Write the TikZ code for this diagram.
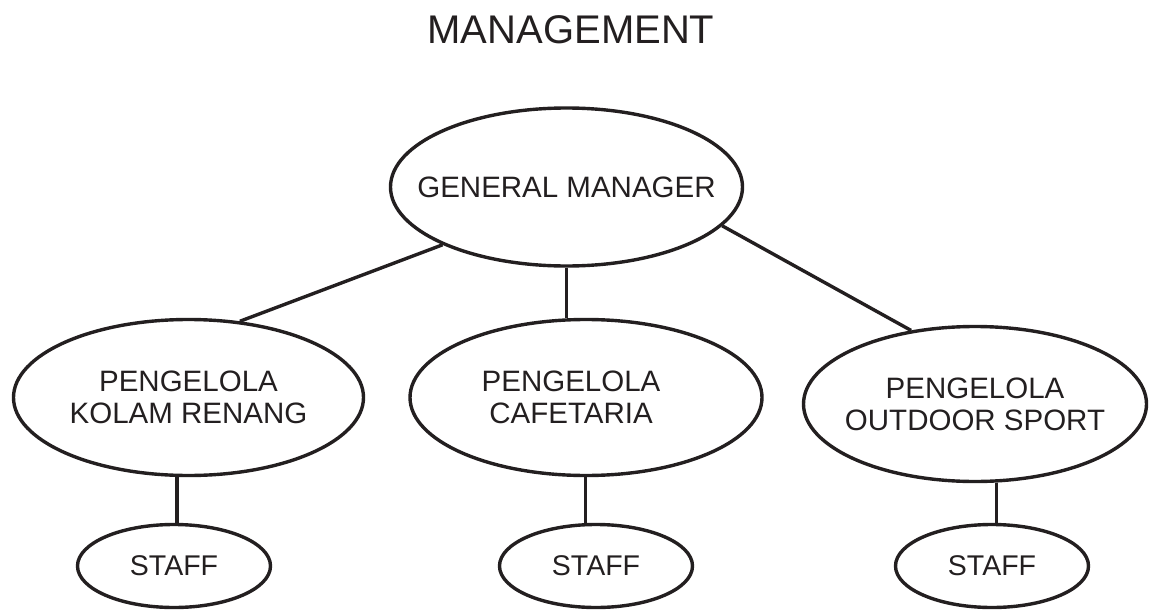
\documentclass[tikz,border=0pt]{standalone}
\usepackage{fontspec}
\setmainfont{Liberation Sans}
\usepackage{tikz}
\usetikzlibrary{shapes,calc}
\definecolor{inkblack}{HTML}{231F20}

\begin{document}
\begin{tikzpicture}[x=1pt,y=-1pt,
  every node/.style={text=inkblack},
  unit/.style={ellipse, draw=inkblack, line width=3.4pt, inner xsep=-60pt, inner ysep=0pt,
    align=center, font=\fontsize{29.5}{32}\selectfont},
  staffbox/.style={unit, minimum width=193pt, minimum height=83pt,
    font=\fontsize{28.5}{32}\selectfont},
  link/.style={draw=inkblack, line width=3.4pt}]
\useasboundingbox (0,0) rectangle (1149,610);
\node[font=\fontsize{40}{44}\selectfont] (title) at (571,30) {MANAGEMENT};
% top and second row
\node[unit, minimum width=352pt, minimum height=158pt] (gm) at (566.5,187) {GENERAL MANAGER};
\node[unit, minimum width=350pt, minimum height=156pt] (kolam) at (188.5,397.5) {PENGELOLA\\KOLAM RENANG};
\node[unit, minimum width=352pt, minimum height=156pt,
  label={[align=center, xshift=-15pt, text=inkblack, font=\fontsize{29.5}{32}\selectfont]center:{PENGELOLA\\CAFETARIA}}] (cafe) at (586,397.5) {};
\node[unit, minimum width=343pt, minimum height=155pt] (outdoor) at (975,404) {PENGELOLA\\OUTDOOR SPORT};
% staff row
{ \foreach \nm/\px in {staffa/174, staffb/596, staffc/992}{\node[staffbox] (\nm) at (\px,566) {STAFF};}}
% connectors
\draw[link] (gm.205) -- (kolam.56);
\draw[link] (gm.south) -- (gm.south |- cafe.north);
\draw[link] (gm.346) -- (outdoor.131);
{ \foreach \nm/\up/\ang in {staffa/kolam/86, staffb/cafe/104, staffc/outdoor/84}{\draw[link] (\nm.\ang) -- (\nm.\ang |- \up.south);}}
\end{tikzpicture}
\end{document}
